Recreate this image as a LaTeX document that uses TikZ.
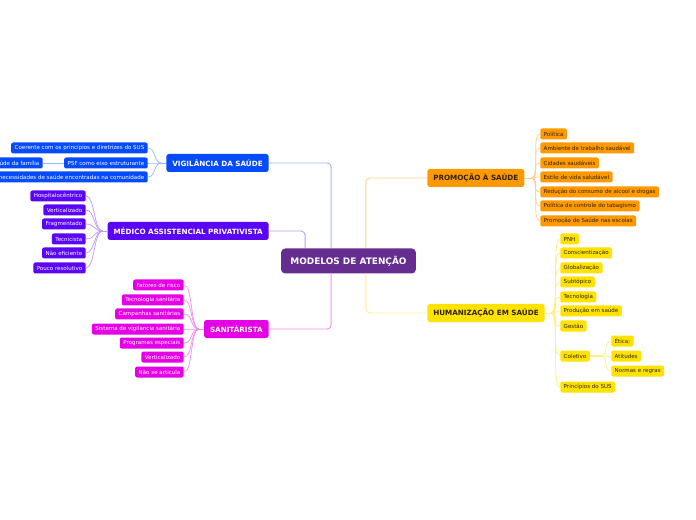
\documentclass[tikz,border=0pt]{standalone}
\usepackage{fontspec}
\setmainfont{DejaVu Sans}
\usepackage{tikz}
\usetikzlibrary{positioning, calc}

\definecolor{modelos}{RGB}{102,45,145}
\definecolor{vigblue}{RGB}{5,75,250}
\definecolor{medviolet}{RGB}{90,5,245}
\definecolor{sanpink}{RGB}{230,0,230}
\definecolor{promorange}{RGB}{255,153,0}
\definecolor{humyellow}{RGB}{255,226,0}
\definecolor{darktext}{RGB}{45,35,20}

\begin{document}
\begin{tikzpicture}[
        x=0.75pt, y=-0.75pt,
        root/.style={rectangle, fill=modelos, text=white, rounded corners=3pt, minimum height=18.75pt, inner xsep=7pt, font=\fontsize{6.7}{8}\selectfont\bfseries},
        topic/.style={rectangle, rounded corners=2pt, minimum height=13.5pt, inner xsep=4.5pt, inner ysep=0pt, font=\fontsize{5.4}{6.5}\selectfont\bfseries},
        leaf/.style={rectangle, rounded corners=1.5pt, minimum height=8.25pt, inner xsep=2.6pt, inner ysep=0pt, font=\fontsize{4.15}{5}\selectfont},
        link/.style={line width=0.55pt},
        mainlink/.style={line width=0.7pt, rounded corners=3pt}
    ]
        \useasboundingbox (0,0) rectangle (696,520);

        % Nodes
        \node[root] (modelos) at (348.5,261) {MODELOS DE ATENÇÃO};
        \node[topic, fill=vigblue, text=white, anchor=east] (vig) at (269,163) {VIGILÂNCIA DA SAÚDE};
        \node[topic, fill=medviolet, text=white, anchor=east] (med) at (269,231) {MÉDICO ASSISTENCIAL PRIVATIVISTA};
        \node[topic, fill=sanpink, text=white, anchor=east] (san) at (269,329) {SANITÁRISTA};
        \node[topic, fill=promorange, text=darktext, anchor=west] (prom) at (427,178) {PROMOÇÃO À SAÚDE};
        \node[topic, fill=humyellow, text=darktext, anchor=west] (hum) at (427,313) {HUMANIZAÇÃO EM SAÚDE};

        % Main branches
        \draw[mainlink, vigblue!40] ([xshift=-13pt]modelos.north) |- (vig.east);
        \draw[mainlink, medviolet!40] ([xshift=-32.6pt]modelos.north) |- (med.east);
        \draw[mainlink, sanpink!45] ([xshift=-13pt]modelos.south) |- (san.east);
        \draw[mainlink, promorange!45] ([xshift=13pt]modelos.north) |- (prom.west);
        \draw[mainlink, humyellow!50] ([xshift=13pt]modelos.south) |- (hum.west);

        % Vigilancia da saude
        \node[leaf, fill=vigblue, text=white, anchor=east] (vig1) at (148,148) {Coerente com os princípios e diretrizes do SUS};
        \node[leaf, fill=vigblue, text=white, anchor=east] (vig2) at (148,163) {PSF como eixo estruturante};
        \node[leaf, fill=vigblue, text=white, anchor=east] (vig3) at (148,177) {necessidades de saúde encontradas na comunidade};
        \node[leaf, fill=vigblue, text=white, anchor=east] (familia) at (43,163) {Saúde da família};
        \coordinate (vighub) at ([xshift=-3.5pt]vig.west);
        \draw[link, vigblue!40] (vig.west) -- (vighub);
        \foreach \i in {1,2,3}
            \draw[link, vigblue!40] (vighub) .. controls +(-8,0) and +(8,0) .. (vig\i.east);
        \draw[link, vigblue!40] (vig2.west) -- (familia.east);

        % Medico assistencial privativista
        \foreach \y/\txt [count=\i] in {196/Hospitalocêntrico, 210/Verticalizado, 224/Fragmentado, 239/Tecnicista, 253/Não eficiente, 268/Pouco resolutivo}
            \node[leaf, fill=medviolet, text=white, anchor=east] (med\i) at (86,\y) {\txt};
        \coordinate (medhub) at ([xshift=-3.5pt]med.west);
        \draw[link, medviolet!40] (med.west) -- (medhub);
        \foreach \i in {1,...,6}
            \draw[link, medviolet!40] (medhub) .. controls +(-9,0) and +(9,0) .. (med\i.east);

        % Sanitarista
        \foreach \y/\txt [count=\i] in {285/Fatores de risco, 300/Tecnologia sanitária, 314/Campanhas sanitárias, 329/Sistema de vigilancia sanitária, 343/Programas especiais, 357/Verticalizado, 372/Não se articula}
            \node[leaf, fill=sanpink, text=white, anchor=east] (san\i) at (184,\y) {\txt};
        \coordinate (sanhub) at ([xshift=-3.5pt]san.west);
        \draw[link, sanpink!45] (san.west) -- (sanhub);
        \foreach \i in {1,...,7}
            \draw[link, sanpink!45] (sanhub) .. controls +(-9,0) and +(9,0) .. (san\i.east);

        % Promocao a saude
        \foreach \y/\txt [count=\i] in {134/Política, 148/Ambiente de trabalho saudável, 163/Cidades saudáveis, 177/Estilo de vida saludável, 192/Redução do consumo de alcool e drogas, 206/Política de controle do tabagismo, 221/Promoção de Saúde nas escolas}
            \node[leaf, fill=promorange, text=darktext, anchor=west] (prom\i) at (540,\y) {\txt};
        \coordinate (promhub) at ([xshift=5pt]prom.east);
        \draw[link, promorange!45] (prom.east) -- (promhub);
        \foreach \i in {1,...,7}
            \draw[link, promorange!45] (promhub) .. controls +(9,0) and +(-9,0) .. (prom\i.west);

        % Humanizacao em saude
        \foreach \y/\txt [count=\i] in {239/PNH, 253/Conscientização, 268/Globalização, 282/Subtópico, 297/Tecnologia, 311/Produção em saúde, 326/Gestão, 356/Coletivo, 387/Princípios do SUS}
            \node[leaf, fill=humyellow, text=darktext, anchor=west] (hum\i) at (560,\y) {\txt};
        \coordinate (humhub) at ([xshift=4.5pt]hum.east);
        \draw[link, humyellow!50] (hum.east) -- (humhub);
        \foreach \i in {1,...,9}
            \draw[link, humyellow!50] (humhub) .. controls +(9,0) and +(-9,0) .. (hum\i.west);

        % Coletivo
        \foreach \y/\txt [count=\i] in {341/Ética;, 356/Atitudes, 371/Normas e regras}
            \node[leaf, fill=humyellow, text=darktext, anchor=west] (col\i) at (611,\y) {\txt};
        \coordinate (colhub) at ([xshift=8pt]hum8.east);
        \draw[line width=1.3pt, humyellow!50] (hum8.east) -- (colhub);
        \foreach \i in {1,2,3}
            \draw[link, humyellow!50] (colhub) .. controls +(8,0) and +(-8,0) .. (col\i.west);
    \end{tikzpicture}
\end{document}
